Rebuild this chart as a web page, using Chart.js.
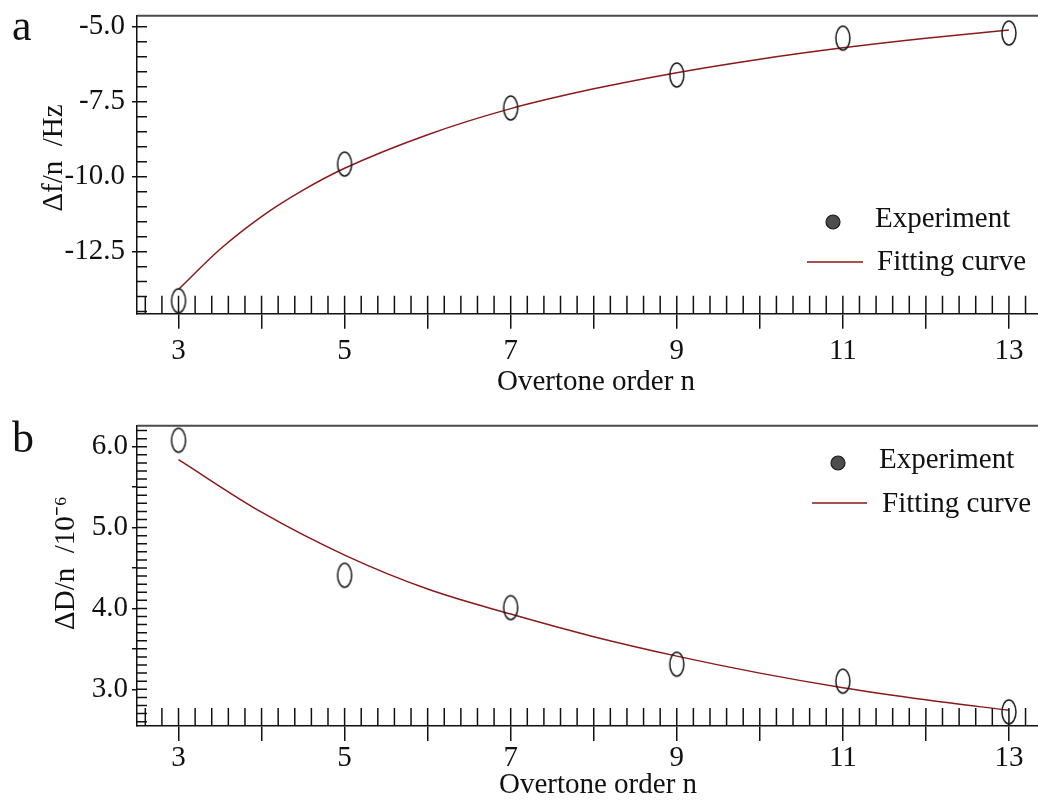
<!DOCTYPE html>
<html lang="en">
<head>
<meta charset="UTF-8">
<title>Overtone order dependence</title>
<script src="https://cdn.jsdelivr.net/npm/chart.js"></script>
<style>
    body {
        margin: 0;
        background: #fff;
    }

    .panel {
        position: relative;
        width: 1038px;
        height: 400px;
    }

    .panel canvas {
        display: block;
    }

    .panel-label {
        position: absolute;
        left: 12px;
        font-family: 'Liberation Serif', 'Times New Roman', serif;
        font-size: 44px;
        line-height: 1;
        color: #111;
    }
</style>
</head>
<body>
<div class="panel">
    <span class="panel-label" style="top: 4px;">a</span>
    <canvas id="df-chart" width="1038" height="400"></canvas>
</div>
<div class="panel">
    <span class="panel-label" style="top: 16px;">b</span>
    <canvas id="dd-chart" width="1038" height="400"></canvas>
</div>

<script>
    // measured points
    const overtone = [3, 5, 7, 9, 11, 13];
    const dfExperiment = [-14.14, -9.58, -7.71, -6.61, -5.38, -5.21];
    const dDExperiment = [6.08, 4.41, 4.01, 3.31, 3.10, 2.72];

    // fitted curves, read along the overtone axis
    const dfFitOrder = [3, 3.5, 4, 4.5, 5, 6, 7, 8, 9, 10, 11, 12, 13];
    const dfFitting = [-13.76, -12.42, -11.33, -10.45, -9.72, -8.6, -7.73, -7.07, -6.53, -6.08, -5.70, -5.38, -5.11];
    const dDFitOrder = [3, 4, 5, 6, 7, 8, 9, 10, 11, 12, 13];
    const dDFitting = [5.84, 5.19, 4.66, 4.24, 3.93, 3.65, 3.41, 3.20, 3.02, 2.87, 2.74];

    // axis ticks
    const xMajorTicks = [3, 4, 5, 6, 7, 8, 9, 10, 11, 12, 13];
    const dfTicks = [-12.5, -10.0, -7.5, -5.0];
    const dDTicks = [3.0, 3.5, 4.0, 4.5, 5.0, 5.5, 6.0];

    const xTitle = 'Overtone order n';
    const serif = "'Liberation Serif', 'Times New Roman', serif";
    const fontSize = 29;
    const ink = '#111';
    const fitColor = '#8b1a1a';

    // open ellipse used for the experiment points
    const ringMarker = (() => {
        const c = document.createElement('canvas');
        c.width = 18;
        c.height = 28;
        const g = c.getContext('2d');
        g.strokeStyle = '#1a1a1a';
        g.lineWidth = 1.5;
        g.beginPath();
        g.ellipse(9, 14, 7, 12, 0, 0, Math.PI * 2);
        g.stroke();
        return c;
    })();

    // top frame line, inward minor ticks, axis titles and the in-plot legend
    const panelDecor = {
        id: 'panelDecor',
        afterDraw(chart, args, opts) {
            const ctx = chart.ctx;
            const area = chart.chartArea;
            const xs = chart.scales.x;
            const ys = chart.scales.y;

            ctx.save();
            ctx.strokeStyle = '#4a4a4a';
            ctx.lineWidth = 2;
            ctx.beginPath();
            ctx.moveTo(area.left, area.top);
            ctx.lineTo(area.right, area.top);
            ctx.stroke();

            ctx.strokeStyle = ink;
            ctx.lineWidth = 1.5;
            ctx.beginPath();
            for (let k = Math.ceil(xs.min / opts.xMinor - 1e-9); k * opts.xMinor <= xs.max + 1e-9; k++) {
                const px = xs.getPixelForValue(k * opts.xMinor);
                ctx.moveTo(px, area.bottom);
                ctx.lineTo(px, area.bottom - 18);
            }
            for (let k = Math.ceil(ys.min / opts.yMinor - 1e-9); k * opts.yMinor <= ys.max + 1e-9; k++) {
                const py = ys.getPixelForValue(k * opts.yMinor);
                ctx.moveTo(area.left, py);
                ctx.lineTo(area.left + 10, py);
            }
            ctx.stroke();

            ctx.font = fontSize + 'px ' + serif;
            ctx.fillStyle = ink;

            // x title
            ctx.textAlign = 'center';
            ctx.textBaseline = 'alphabetic';
            ctx.fillText(xTitle, opts.xTitle.x, opts.xTitle.y);

            // rotated y title
            const t = opts.yTitle;
            ctx.save();
            ctx.translate(t.x, t.y);
            ctx.rotate(-Math.PI / 2);
            ctx.textBaseline = 'middle';
            ctx.fillText(t.text, 0, 0);
            ctx.restore();

            // legend
            const lg = opts.legend;
            const sets = chart.data.datasets;
            ctx.beginPath();
            ctx.arc(lg.dot[0], lg.dot[1], 7, 0, Math.PI * 2);
            ctx.fillStyle = '#4d4d4d';
            ctx.fill();
            ctx.lineWidth = 1.2;
            ctx.strokeStyle = '#1a1a1a';
            ctx.stroke();

            ctx.beginPath();
            ctx.moveTo(lg.line[0], lg.line[2]);
            ctx.lineTo(lg.line[1], lg.line[2]);
            ctx.strokeStyle = fitColor;
            ctx.lineWidth = 1.5;
            ctx.stroke();

            ctx.fillStyle = ink;
            ctx.textAlign = 'left';
            ctx.textBaseline = 'alphabetic';
            ctx.fillText(sets[1].label, lg.text1[0], lg.text1[1]);
            ctx.fillText(sets[0].label, lg.text2[0], lg.text2[1]);
            ctx.restore();
        }
    };

    function drawPanel(id, o) {
        return new Chart(document.getElementById(id), {
            type: 'line',
            data: {
                datasets: [
                    {
                        label: 'Fitting curve',
                        data: o.fitOrder.map((n, i) => ({x: n, y: o.fit[i]})),
                        borderColor: fitColor,
                        borderWidth: 1.5,
                        pointRadius: 0,
                        cubicInterpolationMode: 'monotone',
                        order: 2
                    },
                    {
                        label: 'Experiment',
                        data: overtone.map((n, i) => ({x: n, y: o.exp[i]})),
                        showLine: false,
                        pointStyle: ringMarker,
                        pointRadius: 10,
                        clip: false,
                        order: 1
                    }
                ]
            },
            options: {
                responsive: false,
                animation: false,
                events: [],
                layout: {
                    padding: {top: o.top, right: 0, bottom: 0, left: 0},
                    autoPadding: false
                },
                plugins: {
                    legend: {display: false},
                    tooltip: {enabled: false},
                    panelDecor: {
                        xMinor: 0.2,
                        yMinor: o.yMinor,
                        xTitle: o.xTitle,
                        yTitle: o.yTitle,
                        legend: o.legend
                    }
                },
                scales: {
                    x: {
                        type: 'linear',
                        min: 2.5,
                        max: 13.35,
                        afterBuildTicks: s => { s.ticks = xMajorTicks.map(v => ({value: v})); },
                        afterFit: s => {
                            s.height = o.xHeight;
                            s.paddingLeft = 0;
                            s.paddingRight = 0;
                        },
                        ticks: {
                            autoSkip: false,
                            maxRotation: 0,
                            padding: o.xTickPad,
                            color: ink,
                            font: {family: serif, size: fontSize},
                            callback: v => (v % 2 === 1 ? String(v) : '')
                        },
                        grid: {drawOnChartArea: false, drawTicks: true, tickLength: 15, color: ink, lineWidth: 1.5},
                        border: {display: true, color: ink, width: 1.5}
                    },
                    y: {
                        type: 'linear',
                        min: o.yMin,
                        max: o.yMax,
                        afterBuildTicks: s => { s.ticks = o.yTicks.map(v => ({value: v})); },
                        afterFit: s => {
                            s.width = 137;
                            s.paddingTop = 0;
                            s.paddingBottom = 0;
                        },
                        ticks: {
                            padding: o.yTickPad,
                            color: ink,
                            font: {family: serif, size: fontSize},
                            callback: o.yLabel
                        },
                        grid: {drawOnChartArea: false, drawTicks: true, tickLength: 5, color: ink, lineWidth: 1.5},
                        border: {display: true, color: ink, width: 1.5}
                    }
                }
            },
            plugins: [panelDecor]
        });
    }

    drawPanel('df-chart', {
        exp: dfExperiment,
        fitOrder: dfFitOrder,
        fit: dfFitting,
        yMin: -14.57,
        yMax: -4.63,
        yTicks: dfTicks,
        yMinor: 0.5,
        yLabel: v => v.toFixed(1),
        xTitle: {x: 596, y: 390},
        yTitle: {text: 'Δf/n  /Hz', x: 54, y: 158},
        top: 15.7,
        xHeight: 86.3,
        xTickPad: 5,
        yTickPad: 7,
        legend: {dot: [833, 222], text1: [875, 227], line: [807, 863, 262], text2: [877, 270]}
    });

    drawPanel('dd-chart', {
        exp: dDExperiment,
        fitOrder: dDFitOrder,
        fit: dDFitting,
        yMin: 2.546,
        yMax: 6.26,
        yTicks: dDTicks,
        yMinor: 0.1,
        yLabel: v => (Number.isInteger(v) ? v.toFixed(1) : ''),
        xTitle: {x: 598, y: 393},
        yTitle: {text: 'ΔD/n  /10⁻⁶', x: 66, y: 163},
        top: 25.7,
        xHeight: 74,
        xTickPad: 0,
        yTickPad: 4,
        legend: {dot: [838, 63], text1: [879, 68], line: [812, 867, 103], text2: [882, 112]}
    });
</script>
</body>
</html>
